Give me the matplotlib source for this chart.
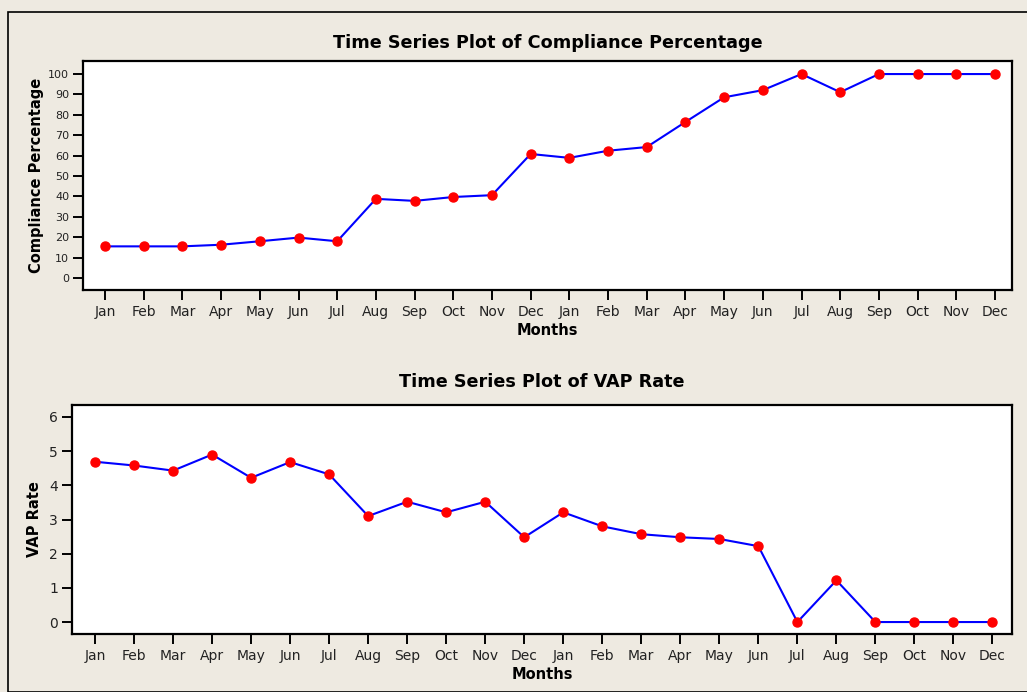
import matplotlib
matplotlib.use("Agg")
import matplotlib.pyplot as plt
from matplotlib.patches import Rectangle

# Data
months = ["Jan", "Feb", "Mar", "Apr", "May", "Jun", "Jul", "Aug", "Sep", "Oct", "Nov", "Dec",
          "Jan", "Feb", "Mar", "Apr", "May", "Jun", "Jul", "Aug", "Sep", "Oct", "Nov", "Dec"]
compliance = [15.5, 15.5, 15.5, 16.3, 18.0, 19.8, 18.0, 38.8, 37.8, 39.7, 40.6, 60.8,
              58.9, 62.4, 64.2, 76.5, 88.6, 92.1, 100, 91.1, 100, 100, 100, 100]
vap_rate = [4.69, 4.58, 4.43, 4.90, 4.22, 4.68, 4.32, 3.10, 3.52, 3.21, 3.52, 2.48,
            3.21, 2.80, 2.57, 2.48, 2.43, 2.22, 0.0, 1.22, 0.0, 0.0, 0.0, 0.0]
comp_ticks = list(range(0, 101, 10))
vap_ticks = list(range(0, 7))

bg = "#eeeae1"
fig = plt.figure(figsize=(10.27, 6.92), dpi=100, facecolor=bg)
W, H = 1027, 692

# outer frame
fig.patches.append(Rectangle((8 / W, 0), 1.2, 1 - 12 / H, transform=fig.transFigure,
                             fill=False, edgecolor="black", linewidth=1.2))


def px_axes(left, top, right, bottom):
    return fig.add_axes([left / W, 1 - bottom / H, (right - left) / W, (bottom - top) / H])


def style(ax, ytick_size):
    ax.set_facecolor("white")
    for s in ax.spines.values():
        s.set_linewidth(1.6)
        s.set_color("black")
    ax.tick_params(axis="both", direction="out", length=7, width=1.4, top=False, right=False,
                   colors="black")
    ax.tick_params(axis="y", labelsize=ytick_size, pad=3)
    ax.tick_params(axis="x", labelsize=10, pad=4)
    for lab in ax.get_xticklabels() + ax.get_yticklabels():
        lab.set_color("#222222")


x = list(range(len(months)))

# Top: compliance
ax1 = px_axes(83, 61, 1012, 290)
ax1.plot(x, compliance, color="#0000ff", linewidth=1.5, marker="o", markersize=6.5,
         markerfacecolor="#ff0000", markeredgecolor="#ff0000", zorder=3)
ax1.set_xlim(-0.57, 23.44)
ax1.set_ylim(-5.9, 106.4)
ax1.set_xticks(x)
ax1.set_xticklabels(months)
ax1.set_yticks(comp_ticks)
style(ax1, 8)
ax1.set_title("Time Series Plot of Compliance Percentage", fontsize=12.7, fontweight="bold", pad=9)
ax1.set_xlabel("Months", fontsize=10.5, fontweight="bold", labelpad=3)
ax1.set_ylabel("Compliance Percentage", fontsize=10.5, fontweight="bold", labelpad=3)

# Bottom: VAP rate
ax2 = px_axes(72, 405, 1012, 634)
ax2.plot(x, vap_rate, color="#0000ff", linewidth=1.5, marker="o", markersize=6.5,
         markerfacecolor="#ff0000", markeredgecolor="#ff0000", zorder=3, clip_on=False)
ax2.set_xlim(-0.59, 23.5)
ax2.set_ylim(-0.35, 6.35)
ax2.set_xticks(x)
ax2.set_xticklabels(months)
ax2.set_yticks(vap_ticks)
style(ax2, 10)
ax2.set_title("Time Series Plot of VAP Rate", fontsize=12.7, fontweight="bold", pad=13)
ax2.set_xlabel("Months", fontsize=10.5, fontweight="bold", labelpad=3)
ax2.set_ylabel("VAP Rate", fontsize=10.5, fontweight="bold", labelpad=5)

fig.savefig("out.png", dpi=100, facecolor=bg)
